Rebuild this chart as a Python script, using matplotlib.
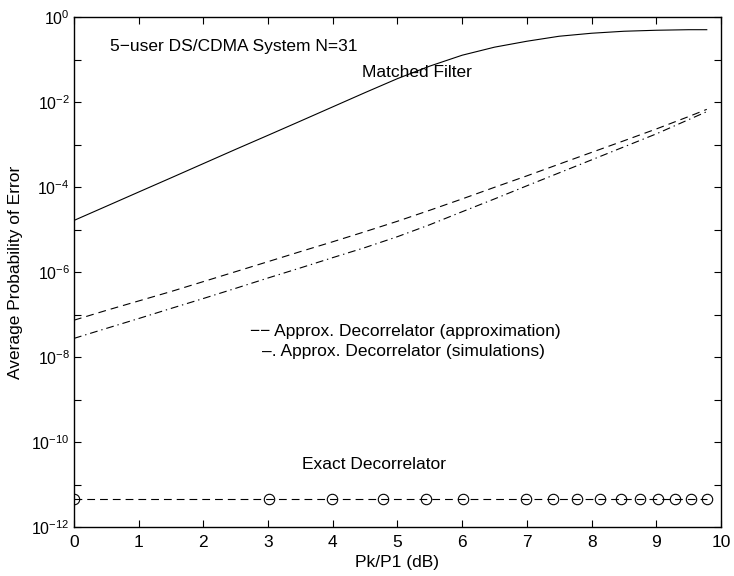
import numpy as np
import matplotlib
matplotlib.use("Agg")
import matplotlib.pyplot as plt

plt.rcParams['font.family'] = ['Liberation Sans', 'DejaVu Sans']
plt.rcParams['mathtext.default'] = 'regular'

# Pk/P1 (dB) grid for the analytic curves
db = [0, 0.5, 1, 1.5, 2, 2.5, 3, 3.5, 4, 4.5, 5, 5.5, 6, 6.5, 7, 7.5, 8, 8.5, 9, 9.5, 9.78]

# matched filter error probability
pe_matched = [1.65e-5, 3.56e-5, 7.7e-5, 1.66e-4, 3.6e-4, 7.8e-4, 1.67e-3, 3.6e-3, 7.8e-3,
              1.69e-2, 3.6e-2, 7.1e-2, 1.28e-1, 1.98e-1, 2.73e-1, 3.58e-1, 4.21e-1, 4.69e-1,
              4.95e-1, 5.1e-1, 5.1e-1]
# approx. decorrelator (approximation), dashed
pe_approx = [7.4e-8, 1.26e-7, 2.1e-7, 3.5e-7, 6.0e-7, 1.03e-6, 1.77e-6, 3.05e-6, 5.2e-6,
             9.0e-6, 1.58e-5, 2.87e-5, 5.3e-5, 9.95e-5, 1.85e-4, 3.5e-4, 6.6e-4, 1.24e-3,
             2.35e-3, 4.6e-3, 6.8e-3]
# approx. decorrelator (simulations), dash-dot
pe_sim = [2.76e-8, 4.74e-8, 8.1e-8, 1.40e-7, 2.4e-7, 4.17e-7, 7.3e-7, 1.26e-6, 2.2e-6,
          3.8e-6, 6.85e-6, 1.31e-5, 2.65e-5, 5.3e-5, 1.08e-4, 2.18e-4, 4.4e-4, 8.9e-4,
          1.8e-3, 3.9e-3, 6.0e-3]

# exact decorrelator points
db_exact = [0, 3.01, 3.98, 4.77, 5.44, 6.02, 6.99, 7.40, 7.78, 8.13, 8.45, 8.75, 9.03, 9.29, 9.54, 9.78]
pe_exact = [4.6e-12] * len(db_exact)

fig = plt.figure(figsize=(7.34, 5.76), dpi=100)
ax = fig.add_axes([0.1008, 0.085, 0.8815, 0.885])

lw = 0.8
ax.semilogy(db, pe_matched, color='black', lw=lw, linestyle='-')
ax.semilogy(db, pe_approx, color='black', lw=lw, linestyle=(0, (7, 4.5)))
ax.semilogy(db, pe_sim, color='black', lw=lw, linestyle=(0, (7, 3.5, 1.2, 3.5)))
ax.semilogy(db_exact, pe_exact, color='black', lw=lw, linestyle=(0, (7, 4.5)),
            marker='o', markersize=7.5, markerfacecolor='none', markeredgecolor='black',
            markeredgewidth=0.8)

fs = 12.5
ax.text(0.56, 0.2, '5\u2212user DS/CDMA System N=31', fontsize=fs, va='center', ha='left')
ax.text(4.45, 0.051, 'Matched Filter', fontsize=fs, va='center', ha='left')
ax.text(2.72, 4.1e-8, '\u2212\u2212 Approx. Decorrelator (approximation)', fontsize=fs, va='center', ha='left')
ax.text(2.90, 1.37e-8, '\u2013. Approx. Decorrelator (simulations)', fontsize=fs, va='center', ha='left')
ax.text(3.52, 2.9e-11, 'Exact Decorrelator', fontsize=fs, va='center', ha='left')

tfs = 11.5
ax.set_xlim(0, 10)
ax.set_ylim(1e-12, 1)
ax.set_xticks(range(11))
ax.set_xticklabels([str(i) for i in range(11)], fontsize=fs)
yt = [10.0 ** (-k) for k in range(13)]
ax.set_yticks(yt)
ax.set_yticklabels([r'$10^{%d}$' % (-k) if k % 2 == 0 else '' for k in range(13)], fontsize=tfs)
ax.yaxis.set_minor_locator(matplotlib.ticker.NullLocator())
ax.tick_params(direction='in', length=5, width=0.8, top=True, right=True)
ax.tick_params(axis='x', pad=6)
ax.tick_params(axis='y', pad=3)

for s in ax.spines.values():
    s.set_linewidth(1.0)

ax.set_xlabel('Pk/P1 (dB)', fontsize=fs, labelpad=3)
ax.set_ylabel('Average Probability of Error', fontsize=fs, labelpad=6)

fig.savefig('out.png', dpi=100, facecolor='white')
